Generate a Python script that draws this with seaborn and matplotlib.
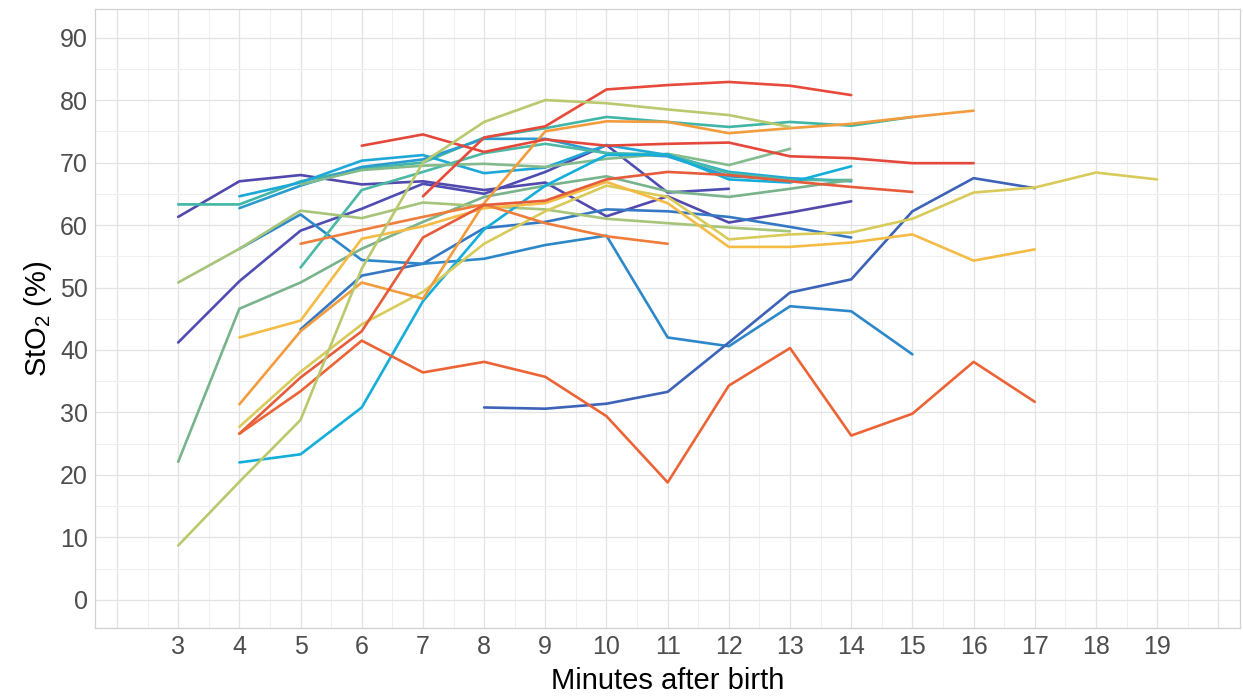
import pandas as pd
import seaborn as sns
import matplotlib.pyplot as plt
from matplotlib.ticker import MultipleLocator

# one list of minutes + StO2 values per infant
minutes = {
    "indigo1": [3, 4, 5, 6, 7, 8, 9, 10, 11, 12, 13, 14],
    "purple2": [3, 4, 5, 6, 7, 8, 9, 10, 11, 12],
    "blue3": [5, 6, 7, 8, 9, 10, 11, 12, 13, 14],
    "blue4": [4, 5, 6, 7, 8, 9, 10, 11, 12, 13, 14, 15],
    "blue5": [8, 9, 10, 11, 12, 13, 14, 15, 16, 17],
    "teal1": [3, 4, 5, 6, 7, 8, 9, 10, 11, 12, 13, 14, 15],
    "cyan1": [4, 5, 6, 7, 8, 9, 10, 11, 12, 13, 14],
    "cyan2": [4, 5, 6, 7, 8, 9, 10, 11, 12, 13],
    "teal2": [5, 6, 7, 8, 9, 10, 11, 12, 13, 14],
    "green1": [5, 6, 7, 8, 9, 10, 11, 12, 13],
    "green2": [3, 4, 5, 6, 7, 8, 9, 10, 11, 12, 13, 14],
    "ygreen2": [3, 4, 5, 6, 7, 8, 9, 10, 11, 12, 13],
    "cyanlow": [4, 5, 6, 7, 8, 9, 10, 11, 12, 13, 14],
    "mustard": [4, 5, 6, 7, 8, 9, 10, 11, 12, 13, 14, 15, 16, 17, 18, 19],
    "yellow": [4, 5, 6, 7, 8, 9, 10, 11, 12, 13, 14, 15, 16, 17],
    "orange8": [4, 5, 6, 7, 8, 9, 10, 11, 12, 13, 14, 15, 16],
    "orange7": [5, 6, 7, 8, 9, 10, 11],
    "red6b": [4, 5, 6, 7, 8, 9, 10, 11, 12, 13, 14, 15],
    "redzig": [4, 5, 6, 7, 8, 9, 10, 11, 12, 13, 14, 15, 16, 17],
    "redA": [6, 7, 8, 9, 10, 11, 12, 13, 14, 15, 16],
    "redB": [7, 8, 9, 10, 11, 12, 13, 14],
    "ygreen1": [3, 4, 5, 6, 7, 8, 9, 10, 11, 12, 13],
}
sto2 = {
    "indigo1": [61.3, 67, 68, 66.5, 67, 65.6, 66.8, 61.4, 64.6, 60.4, 62, 63.8],
    "purple2": [41.2, 51, 59.1, 62.6, 66.6, 65, 68.5, 72.8, 65.2, 65.8],
    "blue3": [43.3, 51.9, 53.8, 59.5, 60.5, 62.5, 62.2, 61.3, 59.7, 58],
    "blue4": [56.2, 61.7, 54.4, 53.8, 54.6, 56.8, 58.3, 42, 40.6, 47, 46.2, 39.3],
    "blue5": [30.8, 30.6, 31.4, 33.3, 41.2, 49.2, 51.3, 62.2, 67.5, 65.9],
    "teal1": [63.3, 63.3, 67, 69, 70, 74, 75.5, 77.3, 76.5, 75.7, 76.5, 75.9, 77.3],
    "cyan1": [64.6, 66.8, 70.3, 71.2, 68.3, 69.2, 72.8, 71.2, 68.5, 67.5, 67.0],
    "cyan2": [62.7, 66.3, 69.3, 70.5, 73.8, 73.8, 71.5, 71.0, 67.8, 67.3],
    "teal2": [53.2, 65.6, 68.5, 71.5, 73.0, 71.5, 71.3, 68.3, 67.2, 67.2],
    "green1": [66.5, 68.8, 69.5, 69.8, 69.3, 70.6, 71.4, 69.6, 72.2],
    "green2": [22.1, 46.6, 50.8, 56.2, 60.5, 64.5, 66.3, 67.8, 65.4, 64.5, 65.8, 67.2],
    "ygreen2": [50.8, 56.2, 62.3, 61.1, 63.6, 63, 62.5, 61, 60.3, 59.6, 59],
    "cyanlow": [22, 23.3, 30.8, 47.8, 59.3, 66.3, 71.2, 71.3, 67.3, 66.8, 69.4],
    "mustard": [27.7, 36.5, 44.1, 49.3, 57, 62.2, 66.3, 64.5, 57.7, 58.5, 58.8, 61, 65.2, 66, 68.4, 67.3],
    "yellow": [42, 44.7, 57.8, 59.8, 62.7, 63.5, 66.9, 63.5, 56.5, 56.5, 57.2, 58.5, 54.3, 56.1],
    "orange8": [31.3, 43, 50.8, 48.2, 63.5, 75, 76.6, 76.5, 74.7, 75.5, 76.2, 77.3, 78.3],
    "orange7": [57, 59.2, 61.3, 63.3, 60.3, 58.2, 57],
    "red6b": [26.6, 35.6, 43, 58, 63.2, 63.9, 67.3, 68.5, 68, 67, 66.1, 65.3],
    "redzig": [26.6, 33.4, 41.5, 36.4, 38.1, 35.7, 29.4, 18.8, 34.3, 40.3, 26.3, 29.8, 38.1, 31.7],
    "redA": [72.7, 74.5, 71.7, 73.7, 72.7, 73, 73.2, 71, 70.7, 69.9, 69.9],
    "redB": [64.6, 74, 75.8, 81.7, 82.4, 82.9, 82.3, 80.8],
    "ygreen1": [8.7, 18.9, 28.8, 53, 70, 76.5, 80, 79.5, 78.5, 77.6, 75.7],
}
colours = {
    "indigo1": "#5249ad", "purple2": "#4f4db3", "blue3": "#3478c4",
    "blue4": "#2d88c9", "blue5": "#3d63b9", "teal1": "#41b6a6",
    "cyan1": "#1ea8d8", "cyan2": "#2a9ccf", "teal2": "#4cb8a6",
    "green1": "#83bb8c", "green2": "#79b38c", "ygreen2": "#a6c47a",
    "cyanlow": "#14aedb", "mustard": "#d8cb5a", "yellow": "#f4bb45",
    "orange8": "#f39c3d", "orange7": "#ef7d3c", "red6b": "#e65c3a",
    "redzig": "#ec6436", "redA": "#e4483a", "redB": "#e74a3b",
    "ygreen1": "#bac86e",
}

rows = []
for sid in minutes:
    for m, v in zip(minutes[sid], sto2[sid]):
        rows.append({"id": sid, "minute": m, "sto2": v})
df = pd.DataFrame(rows)

sns.set_theme(style="whitegrid")
plt.rcParams['font.family'] = ['Liberation Sans', 'DejaVu Sans']
plt.rcParams['mathtext.default'] = 'regular'

fig = plt.figure(figsize=(12.43, 6.98), dpi=100)
ax = fig.add_axes([0.0764, 0.1003, 0.921, 0.887])
sns.lineplot(data=df, x="minute", y="sto2", hue="id", palette=colours,
             estimator=None, linewidth=1.9, legend=False, ax=ax)

ax.set_xlim(1.64, 20.35)
ax.set_ylim(-4.5, 94.6)
ax.set_xticks(range(2, 21))
ax.set_xticklabels([''] + [str(i) for i in range(3, 20)] + [''])
ax.set_yticks(range(0, 91, 10))
ax.xaxis.set_minor_locator(MultipleLocator(0.5))
ax.yaxis.set_minor_locator(MultipleLocator(5))
ax.grid(which='major', color='#e3e3e3', linewidth=0.9)
ax.grid(which='minor', color='#efefef', linewidth=0.7)
ax.tick_params(axis='both', which='both', length=0, labelsize=18, labelcolor='#4d4d4d', pad=5)
for s in ax.spines.values():
    s.set_color('#d2d2d2')
    s.set_linewidth(0.9)
ax.set_xlabel("Minutes after birth", fontsize=21, color='black', labelpad=6)
ax.set_ylabel("StO$_2$ (%)", fontsize=21, color='black', labelpad=4)

fig.savefig("out.png", dpi=100)
